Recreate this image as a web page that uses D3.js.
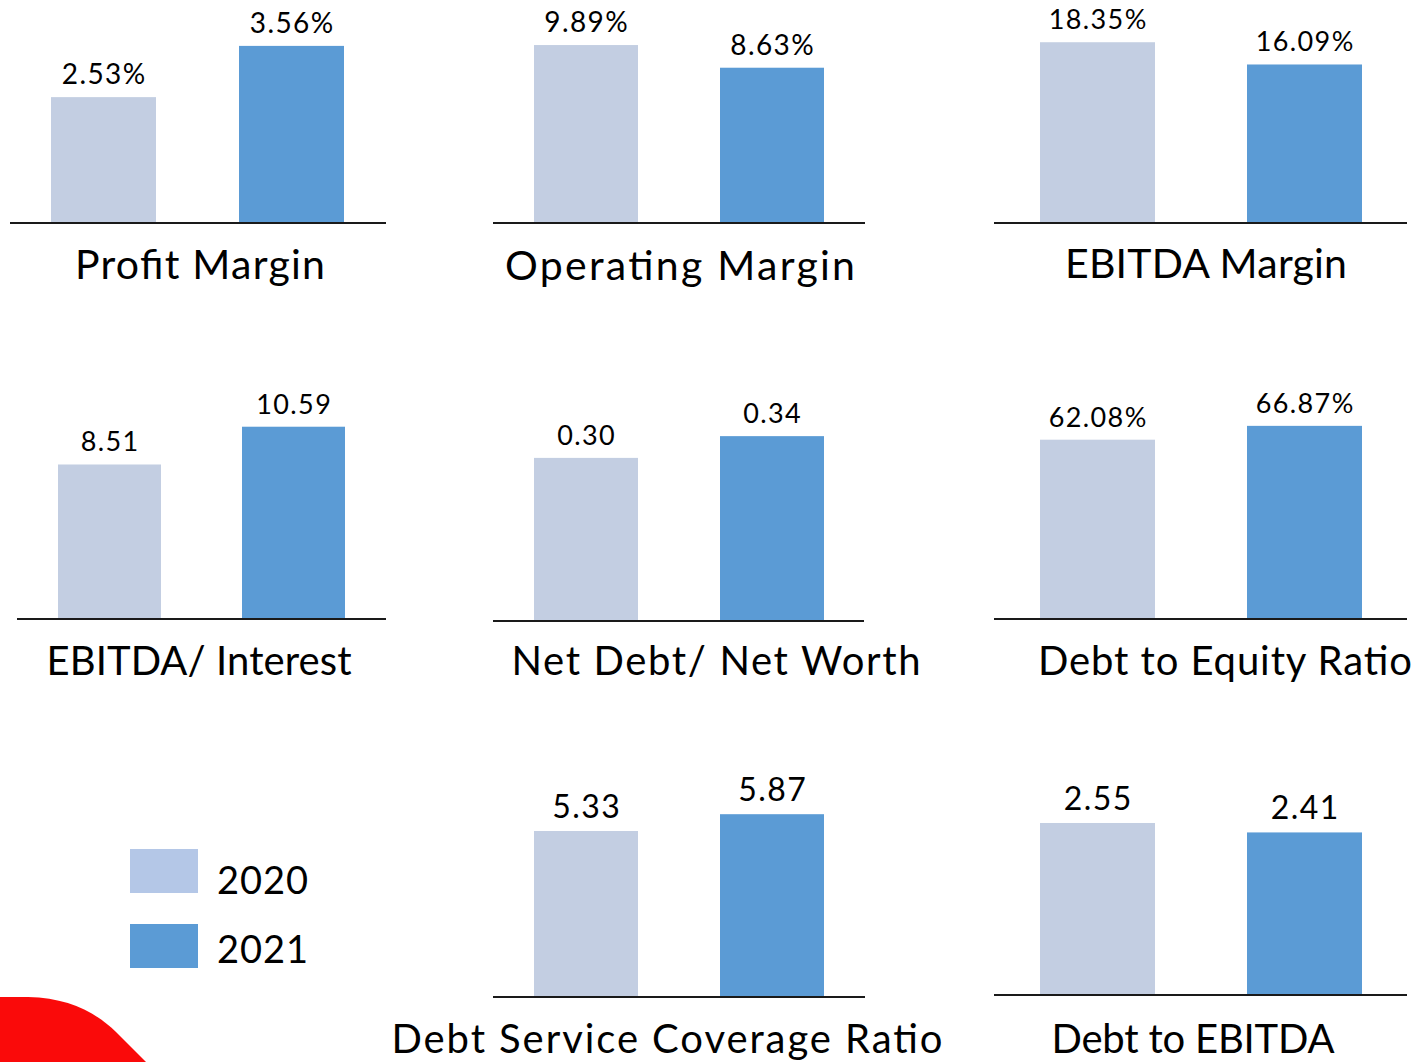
<!DOCTYPE html>
<html lang="en">

<body style="margin:0;background:#fff">
    <script src='https://d3js.org/d3.v7.min.js'></script>

    <script>
        const metrics = ["Profit Margin", "Operating Margin", "EBITDA Margin",
            "EBITDA/ Interest", "Net Debt/ Net Worth", "Debt to Equity Ratio",
            "Debt Service Coverage Ratio", "Debt to EBITDA"];
        const years = ["2020", "2021"];
        const values2020 = [2.53, 9.89, 18.35, 8.51, 0.30, 62.08, 5.33, 2.55];
        const values2021 = [3.56, 8.63, 16.09, 10.59, 0.34, 66.87, 5.87, 2.41];
        const isPercent = [true, true, true, false, false, true, false, false];
        // estimated top of each small chart's value axis
        const axisMax = [4.0, 11.06, 20.2, 10.96, 0.366, 68.9, 6.39, 2.95];

        const width = 1419;
        const height = 1062;
        const plotHeight = 199;
        const barColors = ["#c3cee2", "#5b9bd5"];
        const legendColors = ["#b4c7e7", "#5b9bd5"];
        const font = "Lato, 'Noto Sans', sans-serif";

        // layout of each small chart: axis line, bar span, bar width, title spot and width
        const frames = [
            { ax0: 10, ax1: 386, y: 223, b0: 51, b1: 344, bw: 105, tx: 200, ty: 279, tw: 250, fs: 28, ts: 41 },
            { ax0: 493, ax1: 865, y: 223, b0: 534, b1: 824, bw: 104, tx: 680, ty: 280, tw: 350, fs: 28, ts: 41 },
            { ax0: 994, ax1: 1407, y: 223, b0: 1040, b1: 1362, bw: 115, tx: 1206, ty: 278, tw: 282, fs: 27, ts: 41 },
            { ax0: 17, ax1: 386, y: 619, b0: 58, b1: 345, bw: 103, tx: 199, ty: 675, tw: 305, fs: 27, ts: 40 },
            { ax0: 493, ax1: 864, y: 621, b0: 534, b1: 824, bw: 104, tx: 716, ty: 675, tw: 409, fs: 27, ts: 40 },
            { ax0: 994, ax1: 1407, y: 619, b0: 1040, b1: 1362, bw: 115, tx: 1225, ty: 675, tw: 374, fs: 27, ts: 40 },
            { ax0: 493, ax1: 865, y: 997, b0: 534, b1: 824, bw: 104, tx: 667, ty: 1053, tw: 551, fs: 32, ts: 40 },
            { ax0: 994, ax1: 1407, y: 995, b0: 1040, b1: 1362, bw: 115, tx: 1193, ty: 1053, tw: 283, fs: 32, ts: 40 }
        ];

        var svg = d3.select("body")
            .append("svg")
            .attr("width", width)
            .attr("height", height)
            .style("display", "block");

        // red corner shape
        svg.append("path")
            .attr("d", "M0,997 L28,997 C68,998 94,1011 116,1032 L146,1062 L0,1062 Z")
            .attr("fill", "#fa0a0a");

        metrics.forEach(function (name, i) {
            const f = frames[i];
            const vals = [values2020[i], values2021[i]];
            const span = f.b1 - f.b0;

            // inner padding chosen so that each band is exactly bw wide
            var x = d3.scaleBand()
                .domain(years)
                .range([f.b0, f.b1])
                .paddingInner((span - 2 * f.bw) / (span - f.bw))
                .paddingOuter(0);

            var y = d3.scaleLinear()
                .domain([0, axisMax[i]])
                .range([f.y, f.y - plotHeight]);

            var g = svg.append("g");

            g.selectAll("rect")
                .data(vals)
                .enter()
                .append("rect")
                .attr("x", function (d, j) { return x(years[j]); })
                .attr("y", function (d) { return y(d); })
                .attr("width", x.bandwidth())
                .attr("height", function (d) { return y(0) - y(d); })
                .attr("fill", function (d, j) { return barColors[j]; });

            g.append("line")
                .attr("x1", f.ax0)
                .attr("x2", f.ax1)
                .attr("y1", f.y)
                .attr("y2", f.y)
                .attr("stroke", "#1a1a1a")
                .attr("stroke-width", 2);

            g.selectAll(".val")
                .data(vals)
                .enter()
                .append("text")
                .attr("class", "val")
                .attr("x", function (d, j) { return x(years[j]) + x.bandwidth() / 2 + 0.7; })
                .attr("y", function (d) { return y(d) - 13; })
                .attr("text-anchor", "middle")
                .style("font-family", font)
                .style("font-size", f.fs + "px")
                .style("letter-spacing", "1.4px")
                .attr("fill", "#000")
                .text(function (d) { return d.toFixed(2) + (isPercent[i] ? "%" : ""); });

            g.append("text")
                .attr("x", f.tx - f.tw / 2)
                .attr("y", f.ty)
                .attr("textLength", f.tw)
                .attr("lengthAdjust", "spacing")
                .style("font-family", font)
                .style("font-size", f.ts + "px")
                .attr("fill", "#000")
                .text(name);
        });

        // legend
        var leg = svg.append("g")
            .selectAll("g")
            .data(years)
            .enter()
            .append("g")
            .attr("transform", function (d, i) { return "translate(130," + (849 + i * 75) + ")"; });

        leg.append("rect")
            .attr("width", 68)
            .attr("height", 44)
            .attr("fill", function (d, i) { return legendColors[i]; });

        leg.append("text")
            .attr("x", 87)
            .attr("y", function (d, i) { return 45 - i * 6; })
            .style("font-family", font)
            .style("font-size", "38px")
            .style("letter-spacing", "1px")
            .attr("fill", "#000")
            .text(function (d) { return d; });
    </script>

</body>

</html>
